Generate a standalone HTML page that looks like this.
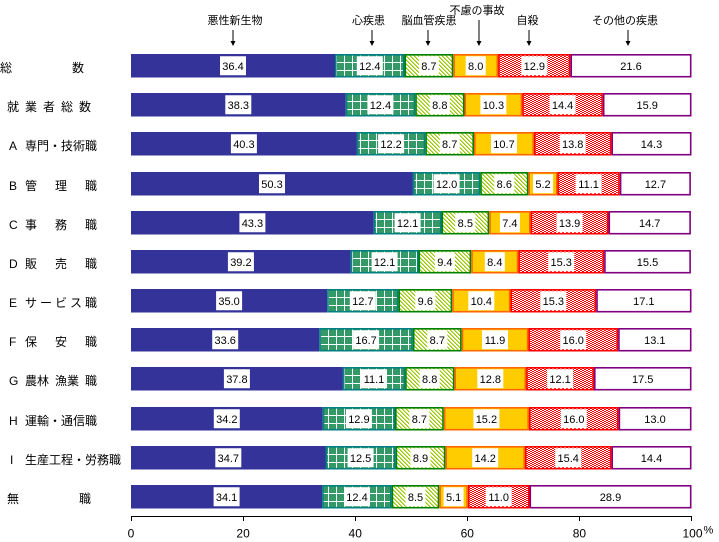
<!DOCTYPE html>
<html><head><meta charset="utf-8"><style>
html,body{margin:0;padding:0;background:#fff}
svg{display:block}
text{font-family:"Liberation Sans","Noto Sans CJK JP",sans-serif;fill:#000}
.n{font-size:11px;text-anchor:middle}
.lb{font-size:12px}
.hd{font-size:11px;text-anchor:middle}
.tk{font-size:12px;text-anchor:middle}
</style></head><body>
<svg width="719" height="542" viewBox="0 0 719 542" xmlns="http://www.w3.org/2000/svg">
<defs>
<pattern id="grid" width="8" height="8" patternUnits="userSpaceOnUse">
<rect width="8" height="8" fill="#339966" shape-rendering="crispEdges"/><rect width="1" height="8" fill="#fff" shape-rendering="crispEdges"/><rect y="0" width="8" height="1" fill="#fff" shape-rendering="crispEdges"/>
</pattern>
<pattern id="hatch" width="4" height="4" patternUnits="userSpaceOnUse">
<rect width="4" height="4" fill="#fff" shape-rendering="crispEdges"/>
<rect x="0" y="0" width="1" height="1" fill="#99CC00" shape-rendering="crispEdges"/>
<rect x="1" y="1" width="1" height="1" fill="#99CC00" shape-rendering="crispEdges"/>
<rect x="2" y="2" width="1" height="1" fill="#99CC00" shape-rendering="crispEdges"/>
<rect x="3" y="3" width="1" height="1" fill="#99CC00" shape-rendering="crispEdges"/>
<rect x="1" y="0" width="1" height="1" fill="#c4e066" shape-rendering="crispEdges"/>
<rect x="2" y="1" width="1" height="1" fill="#c4e066" shape-rendering="crispEdges"/>
<rect x="3" y="2" width="1" height="1" fill="#c4e066" shape-rendering="crispEdges"/>
<rect x="0" y="3" width="1" height="1" fill="#c4e066" shape-rendering="crispEdges"/>
</pattern>
<pattern id="dots" width="4" height="2" patternUnits="userSpaceOnUse">
<rect width="4" height="2" fill="#fff" shape-rendering="crispEdges"/><rect x="0" y="0" width="2" height="1" fill="#f00" shape-rendering="crispEdges"/><rect x="2" y="1" width="2" height="1" fill="#f00" shape-rendering="crispEdges"/>
</pattern>
<g id="arr"><line x1="0" y1="30" x2="0" y2="42" stroke="#000" stroke-width="1"/><polygon points="-2.5,41 2.5,41 0,46" fill="#000"/></g>
</defs>

<!-- headers -->
<text class="hd" x="235" y="24">悪性新生物</text>
<text class="hd" x="368.5" y="24">心疾患</text>
<text class="hd" x="429" y="24">脳血管疾患</text>
<text class="hd" x="477" y="14">不慮の事故</text>
<text class="hd" x="527.5" y="24">自殺</text>
<text class="hd" x="625" y="24">その他の疾患</text>
<use href="#arr" x="233" y="0"/>
<use href="#arr" x="372" y="0"/>
<use href="#arr" x="428" y="0"/>
<line x1="479" y1="20" x2="479" y2="42" stroke="#000" stroke-width="1"/><polygon points="476.5,41 481.5,41 479,46" fill="#000"/>
<use href="#arr" x="529" y="0"/>
<use href="#arr" x="628" y="0"/>

<!-- Row 0 -->
<g transform="translate(0,54)">
<text class="lb" x="0" y="17.75">総</text><text class="lb" x="72" y="17.75">数</text>
<rect x="131" y="0" width="204.0" height="23.5" fill="#333399"/>
<rect x="335.8" y="0.8" width="67.9" height="21.9" fill="url(#grid)" stroke="#008080" stroke-width="1.6"/>
<rect x="405.3" y="0.8" width="47.2" height="21.9" fill="url(#hatch)" stroke="#008000" stroke-width="1.6"/>
<rect x="454.1" y="0.8" width="43.2" height="21.9" fill="#FFCC00" stroke="#FF6600" stroke-width="1.6"/>
<rect x="498.9" y="0.8" width="70.7" height="21.9" fill="url(#dots)" stroke="#FF0000" stroke-width="1.6"/>
<rect x="571.2" y="0.8" width="119.5" height="21.9" fill="#fff" stroke="#800080" stroke-width="1.6"/>
<rect x="220.0" y="2.25" width="26" height="19" fill="#fff"/><text class="n" x="233.0" y="15.8">36.4</text>
<rect x="356.8" y="2.25" width="26" height="19" fill="#fff"/><text class="n" x="369.8" y="15.8">12.4</text>
<rect x="418.9" y="2.25" width="20" height="19" fill="#fff"/><text class="n" x="428.9" y="15.8">8.7</text>
<rect x="465.7" y="2.25" width="20" height="19" fill="#fff"/><text class="n" x="475.7" y="15.8">8.0</text>
<rect x="521.3" y="2.25" width="26" height="19" fill="#fff"/><text class="n" x="534.3" y="15.8">12.9</text>
<text class="n" x="631.0" y="15.8">21.6</text>
</g>

<!-- Row 1 -->
<g transform="translate(0,93)">
<text class="lb" x="7 25 43 61 79" y="17.75">就業者総数</text>
<rect x="131" y="0" width="214.7" height="23.5" fill="#333399"/>
<rect x="346.5" y="0.8" width="67.9" height="21.9" fill="url(#grid)" stroke="#008080" stroke-width="1.6"/>
<rect x="416.0" y="0.8" width="47.7" height="21.9" fill="url(#hatch)" stroke="#008000" stroke-width="1.6"/>
<rect x="465.3" y="0.8" width="56.1" height="21.9" fill="#FFCC00" stroke="#FF6600" stroke-width="1.6"/>
<rect x="523.0" y="0.8" width="79.1" height="21.9" fill="url(#dots)" stroke="#FF0000" stroke-width="1.6"/>
<rect x="603.7" y="0.8" width="87.0" height="21.9" fill="#fff" stroke="#800080" stroke-width="1.6"/>
<rect x="225.3" y="2.25" width="26" height="19" fill="#fff"/><text class="n" x="238.3" y="15.8">38.3</text>
<rect x="367.4" y="2.25" width="26" height="19" fill="#fff"/><text class="n" x="380.4" y="15.8">12.4</text>
<rect x="429.8" y="2.25" width="20" height="19" fill="#fff"/><text class="n" x="439.8" y="15.8">8.8</text>
<rect x="480.4" y="2.25" width="26" height="19" fill="#fff"/><text class="n" x="493.4" y="15.8">10.3</text>
<rect x="549.6" y="2.25" width="26" height="19" fill="#fff"/><text class="n" x="562.6" y="15.8">14.4</text>
<text class="n" x="647.2" y="15.8">15.9</text>
</g>

<!-- Row 2 -->
<g transform="translate(0,132)">
<text class="lb" x="9" y="17.75">A</text><text class="lb" x="25" y="17.75">専門・技術職</text>
<rect x="131" y="0" width="225.9" height="23.5" fill="#333399"/>
<rect x="357.7" y="0.8" width="66.8" height="21.9" fill="url(#grid)" stroke="#008080" stroke-width="1.6"/>
<rect x="426.1" y="0.8" width="47.1" height="21.9" fill="url(#hatch)" stroke="#008000" stroke-width="1.6"/>
<rect x="474.8" y="0.8" width="58.4" height="21.9" fill="#FFCC00" stroke="#FF6600" stroke-width="1.6"/>
<rect x="534.8" y="0.8" width="75.8" height="21.9" fill="url(#dots)" stroke="#FF0000" stroke-width="1.6"/>
<rect x="612.2" y="0.8" width="78.5" height="21.9" fill="#fff" stroke="#800080" stroke-width="1.6"/>
<rect x="230.9" y="2.25" width="26" height="19" fill="#fff"/><text class="n" x="243.9" y="15.8">40.3</text>
<rect x="378.1" y="2.25" width="26" height="19" fill="#fff"/><text class="n" x="391.1" y="15.8">12.2</text>
<rect x="439.7" y="2.25" width="20" height="19" fill="#fff"/><text class="n" x="449.7" y="15.8">8.7</text>
<rect x="491.0" y="2.25" width="26" height="19" fill="#fff"/><text class="n" x="504.0" y="15.8">10.7</text>
<rect x="559.7" y="2.25" width="26" height="19" fill="#fff"/><text class="n" x="572.7" y="15.8">13.8</text>
<text class="n" x="651.5" y="15.8">14.3</text>
</g>

<!-- Row 3 -->
<g transform="translate(0,172)">
<text class="lb" x="9" y="17.75">B</text><text class="lb" x="25 55 85" y="17.75">管理職</text>
<rect x="131" y="0" width="281.9" height="23.5" fill="#333399"/>
<rect x="413.7" y="0.8" width="65.7" height="21.9" fill="url(#grid)" stroke="#008080" stroke-width="1.6"/>
<rect x="481.0" y="0.8" width="46.6" height="21.9" fill="url(#hatch)" stroke="#008000" stroke-width="1.6"/>
<rect x="529.2" y="0.8" width="27.5" height="21.9" fill="#FFCC00" stroke="#FF6600" stroke-width="1.6"/>
<rect x="558.3" y="0.8" width="60.7" height="21.9" fill="url(#dots)" stroke="#FF0000" stroke-width="1.6"/>
<rect x="620.6" y="0.8" width="69.5" height="21.9" fill="#fff" stroke="#800080" stroke-width="1.6"/>
<rect x="259.0" y="2.25" width="26" height="19" fill="#fff"/><text class="n" x="272.0" y="15.8">50.3</text>
<rect x="433.6" y="2.25" width="26" height="19" fill="#fff"/><text class="n" x="446.6" y="15.8">12.0</text>
<rect x="494.3" y="2.25" width="20" height="19" fill="#fff"/><text class="n" x="504.3" y="15.8">8.6</text>
<rect x="533.0" y="2.25" width="20" height="19" fill="#fff"/><text class="n" x="543.0" y="15.8">5.2</text>
<rect x="575.6" y="2.25" width="26" height="19" fill="#fff"/><text class="n" x="588.6" y="15.8">11.1</text>
<text class="n" x="655.4" y="15.8">12.7</text>
</g>

<!-- Row 4 -->
<g transform="translate(0,211)">
<text class="lb" x="9" y="17.75">C</text><text class="lb" x="25 55 85" y="17.75">事務職</text>
<rect x="131" y="0" width="242.7" height="23.5" fill="#333399"/>
<rect x="374.5" y="0.8" width="66.2" height="21.9" fill="url(#grid)" stroke="#008080" stroke-width="1.6"/>
<rect x="442.3" y="0.8" width="46.1" height="21.9" fill="url(#hatch)" stroke="#008000" stroke-width="1.6"/>
<rect x="490.0" y="0.8" width="39.8" height="21.9" fill="#FFCC00" stroke="#FF6600" stroke-width="1.6"/>
<rect x="531.4" y="0.8" width="76.3" height="21.9" fill="url(#dots)" stroke="#FF0000" stroke-width="1.6"/>
<rect x="609.3" y="0.8" width="80.8" height="21.9" fill="#fff" stroke="#800080" stroke-width="1.6"/>
<rect x="239.4" y="2.25" width="26" height="19" fill="#fff"/><text class="n" x="252.4" y="15.8">43.3</text>
<rect x="394.6" y="2.25" width="26" height="19" fill="#fff"/><text class="n" x="407.6" y="15.8">12.1</text>
<rect x="455.3" y="2.25" width="20" height="19" fill="#fff"/><text class="n" x="465.3" y="15.8">8.5</text>
<rect x="499.9" y="2.25" width="20" height="19" fill="#fff"/><text class="n" x="509.9" y="15.8">7.4</text>
<rect x="556.6" y="2.25" width="26" height="19" fill="#fff"/><text class="n" x="569.6" y="15.8">13.9</text>
<text class="n" x="649.7" y="15.8">14.7</text>
</g>

<!-- Row 5 -->
<g transform="translate(0,250)">
<text class="lb" x="9" y="17.75">D</text><text class="lb" x="25 55 85" y="17.75">販売職</text>
<rect x="131" y="0" width="219.7" height="23.5" fill="#333399"/>
<rect x="351.5" y="0.8" width="66.2" height="21.9" fill="url(#grid)" stroke="#008080" stroke-width="1.6"/>
<rect x="419.3" y="0.8" width="51.1" height="21.9" fill="url(#hatch)" stroke="#008000" stroke-width="1.6"/>
<rect x="472.0" y="0.8" width="45.5" height="21.9" fill="#FFCC00" stroke="#FF6600" stroke-width="1.6"/>
<rect x="519.1" y="0.8" width="84.2" height="21.9" fill="url(#dots)" stroke="#FF0000" stroke-width="1.6"/>
<rect x="604.9" y="0.8" width="85.2" height="21.9" fill="#fff" stroke="#800080" stroke-width="1.6"/>
<rect x="227.9" y="2.25" width="26" height="19" fill="#fff"/><text class="n" x="240.9" y="15.8">39.2</text>
<rect x="371.6" y="2.25" width="26" height="19" fill="#fff"/><text class="n" x="384.6" y="15.8">12.1</text>
<rect x="434.9" y="2.25" width="20" height="19" fill="#fff"/><text class="n" x="444.9" y="15.8">9.4</text>
<rect x="484.8" y="2.25" width="20" height="19" fill="#fff"/><text class="n" x="494.8" y="15.8">8.4</text>
<rect x="548.2" y="2.25" width="26" height="19" fill="#fff"/><text class="n" x="561.2" y="15.8">15.3</text>
<text class="n" x="647.5" y="15.8">15.5</text>
</g>

<!-- Row 6 -->
<g transform="translate(0,289)">
<text class="lb" x="9" y="17.75">E</text><text class="lb" x="25 40 55 70 85" y="17.75">サービス職</text>
<rect x="131" y="0" width="196.2" height="23.5" fill="#333399"/>
<rect x="328.0" y="0.8" width="69.6" height="21.9" fill="url(#grid)" stroke="#008080" stroke-width="1.6"/>
<rect x="399.2" y="0.8" width="52.2" height="21.9" fill="url(#hatch)" stroke="#008000" stroke-width="1.6"/>
<rect x="453.0" y="0.8" width="56.7" height="21.9" fill="#FFCC00" stroke="#FF6600" stroke-width="1.6"/>
<rect x="511.3" y="0.8" width="84.1" height="21.9" fill="url(#dots)" stroke="#FF0000" stroke-width="1.6"/>
<rect x="597.0" y="0.8" width="93.7" height="21.9" fill="#fff" stroke="#800080" stroke-width="1.6"/>
<rect x="216.1" y="2.25" width="26" height="19" fill="#fff"/><text class="n" x="229.1" y="15.8">35.0</text>
<rect x="349.8" y="2.25" width="26" height="19" fill="#fff"/><text class="n" x="362.8" y="15.8">12.7</text>
<rect x="415.3" y="2.25" width="20" height="19" fill="#fff"/><text class="n" x="425.3" y="15.8">9.6</text>
<rect x="468.3" y="2.25" width="26" height="19" fill="#fff"/><text class="n" x="481.3" y="15.8">10.4</text>
<rect x="540.3" y="2.25" width="26" height="19" fill="#fff"/><text class="n" x="553.3" y="15.8">15.3</text>
<text class="n" x="643.8" y="15.8">17.1</text>
</g>

<!-- Row 7 -->
<g transform="translate(0,328)">
<text class="lb" x="9" y="17.75">F</text><text class="lb" x="25 55 85" y="17.75">保安職</text>
<rect x="131" y="0" width="188.3" height="23.5" fill="#333399"/>
<rect x="320.1" y="0.8" width="92.0" height="21.9" fill="url(#grid)" stroke="#008080" stroke-width="1.6"/>
<rect x="413.7" y="0.8" width="47.2" height="21.9" fill="url(#hatch)" stroke="#008000" stroke-width="1.6"/>
<rect x="462.5" y="0.8" width="65.1" height="21.9" fill="#FFCC00" stroke="#FF6600" stroke-width="1.6"/>
<rect x="529.2" y="0.8" width="88.1" height="21.9" fill="url(#dots)" stroke="#FF0000" stroke-width="1.6"/>
<rect x="618.9" y="0.8" width="71.8" height="21.9" fill="#fff" stroke="#800080" stroke-width="1.6"/>
<rect x="212.2" y="2.25" width="26" height="19" fill="#fff"/><text class="n" x="225.2" y="15.8">33.6</text>
<rect x="353.1" y="2.25" width="26" height="19" fill="#fff"/><text class="n" x="366.1" y="15.8">16.7</text>
<rect x="427.3" y="2.25" width="20" height="19" fill="#fff"/><text class="n" x="437.3" y="15.8">8.7</text>
<rect x="482.0" y="2.25" width="26" height="19" fill="#fff"/><text class="n" x="495.0" y="15.8">11.9</text>
<rect x="560.2" y="2.25" width="26" height="19" fill="#fff"/><text class="n" x="573.2" y="15.8">16.0</text>
<text class="n" x="654.8" y="15.8">13.1</text>
</g>

<!-- Row 8 -->
<g transform="translate(0,367)">
<text class="lb" x="9" y="17.75">G</text><text class="lb" x="25 37 55 67 85" y="17.75">農林漁業職</text>
<rect x="131" y="0" width="211.9" height="23.5" fill="#333399"/>
<rect x="343.7" y="0.8" width="60.6" height="21.9" fill="url(#grid)" stroke="#008080" stroke-width="1.6"/>
<rect x="405.9" y="0.8" width="47.7" height="21.9" fill="url(#hatch)" stroke="#008000" stroke-width="1.6"/>
<rect x="455.2" y="0.8" width="70.1" height="21.9" fill="#FFCC00" stroke="#FF6600" stroke-width="1.6"/>
<rect x="526.9" y="0.8" width="66.3" height="21.9" fill="url(#dots)" stroke="#FF0000" stroke-width="1.6"/>
<rect x="594.8" y="0.8" width="95.9" height="21.9" fill="#fff" stroke="#800080" stroke-width="1.6"/>
<rect x="223.9" y="2.25" width="26" height="19" fill="#fff"/><text class="n" x="236.9" y="15.8">37.8</text>
<rect x="361.0" y="2.25" width="26" height="19" fill="#fff"/><text class="n" x="374.0" y="15.8">11.1</text>
<rect x="419.7" y="2.25" width="20" height="19" fill="#fff"/><text class="n" x="429.7" y="15.8">8.8</text>
<rect x="477.3" y="2.25" width="26" height="19" fill="#fff"/><text class="n" x="490.3" y="15.8">12.8</text>
<rect x="547.1" y="2.25" width="26" height="19" fill="#fff"/><text class="n" x="560.1" y="15.8">12.1</text>
<text class="n" x="642.7" y="15.8">17.5</text>
</g>

<!-- Row 9 -->
<g transform="translate(0,407)">
<text class="lb" x="9" y="17.75">H</text><text class="lb" x="25" y="17.75">運輸・通信職</text>
<rect x="131" y="0" width="191.7" height="23.5" fill="#333399"/>
<rect x="323.5" y="0.8" width="70.7" height="21.9" fill="url(#grid)" stroke="#008080" stroke-width="1.6"/>
<rect x="395.8" y="0.8" width="47.2" height="21.9" fill="url(#hatch)" stroke="#008000" stroke-width="1.6"/>
<rect x="444.6" y="0.8" width="83.6" height="21.9" fill="#FFCC00" stroke="#FF6600" stroke-width="1.6"/>
<rect x="529.8" y="0.8" width="88.0" height="21.9" fill="url(#dots)" stroke="#FF0000" stroke-width="1.6"/>
<rect x="619.4" y="0.8" width="71.3" height="21.9" fill="#fff" stroke="#800080" stroke-width="1.6"/>
<rect x="213.8" y="2.25" width="26" height="19" fill="#fff"/><text class="n" x="226.8" y="15.8">34.2</text>
<rect x="345.9" y="2.25" width="26" height="19" fill="#fff"/><text class="n" x="358.9" y="15.8">12.9</text>
<rect x="409.4" y="2.25" width="20" height="19" fill="#fff"/><text class="n" x="419.4" y="15.8">8.7</text>
<rect x="473.4" y="2.25" width="26" height="19" fill="#fff"/><text class="n" x="486.4" y="15.8">15.2</text>
<rect x="560.8" y="2.25" width="26" height="19" fill="#fff"/><text class="n" x="573.8" y="15.8">16.0</text>
<text class="n" x="655.0" y="15.8">13.0</text>
</g>

<!-- Row 10 -->
<g transform="translate(0,446)">
<text class="lb" x="10" y="17.75">I</text><text class="lb" x="25" y="17.75">生産工程・労務職</text>
<rect x="131" y="0" width="194.5" height="23.5" fill="#333399"/>
<rect x="326.3" y="0.8" width="68.5" height="21.9" fill="url(#grid)" stroke="#008080" stroke-width="1.6"/>
<rect x="396.4" y="0.8" width="48.2" height="21.9" fill="url(#hatch)" stroke="#008000" stroke-width="1.6"/>
<rect x="446.2" y="0.8" width="78.0" height="21.9" fill="#FFCC00" stroke="#FF6600" stroke-width="1.6"/>
<rect x="525.8" y="0.8" width="84.8" height="21.9" fill="url(#dots)" stroke="#FF0000" stroke-width="1.6"/>
<rect x="612.2" y="0.8" width="78.5" height="21.9" fill="#fff" stroke="#800080" stroke-width="1.6"/>
<rect x="215.3" y="2.25" width="26" height="19" fill="#fff"/><text class="n" x="228.3" y="15.8">34.7</text>
<rect x="347.6" y="2.25" width="26" height="19" fill="#fff"/><text class="n" x="360.6" y="15.8">12.5</text>
<rect x="410.5" y="2.25" width="20" height="19" fill="#fff"/><text class="n" x="420.5" y="15.8">8.9</text>
<rect x="472.2" y="2.25" width="26" height="19" fill="#fff"/><text class="n" x="485.2" y="15.8">14.2</text>
<rect x="555.2" y="2.25" width="26" height="19" fill="#fff"/><text class="n" x="568.2" y="15.8">15.4</text>
<text class="n" x="651.5" y="15.8">14.4</text>
</g>

<!-- Row 11 -->
<g transform="translate(0,485)">
<text class="lb" x="7" y="17.75">無</text><text class="lb" x="79" y="17.75">職</text>
<rect x="131" y="0" width="191.1" height="23.5" fill="#333399"/>
<rect x="322.9" y="0.8" width="67.9" height="21.9" fill="url(#grid)" stroke="#008080" stroke-width="1.6"/>
<rect x="392.4" y="0.8" width="46.1" height="21.9" fill="url(#hatch)" stroke="#008000" stroke-width="1.6"/>
<rect x="440.1" y="0.8" width="27.0" height="21.9" fill="#FFCC00" stroke="#FF6600" stroke-width="1.6"/>
<rect x="468.7" y="0.8" width="60.0" height="21.9" fill="url(#dots)" stroke="#FF0000" stroke-width="1.6"/>
<rect x="530.3" y="0.8" width="160.4" height="21.9" fill="#fff" stroke="#800080" stroke-width="1.6"/>
<rect x="213.6" y="2.25" width="26" height="19" fill="#fff"/><text class="n" x="226.6" y="15.8">34.1</text>
<rect x="344.0" y="2.25" width="26" height="19" fill="#fff"/><text class="n" x="357.0" y="15.8">12.4</text>
<rect x="405.5" y="2.25" width="20" height="19" fill="#fff"/><text class="n" x="415.5" y="15.8">8.5</text>
<rect x="443.6" y="2.25" width="20" height="19" fill="#fff"/><text class="n" x="453.6" y="15.8">5.1</text>
<rect x="485.7" y="2.25" width="26" height="19" fill="#fff"/><text class="n" x="498.7" y="15.8">11.0</text>
<text class="n" x="610.5" y="15.8">28.9</text>
</g>

<!-- axis -->
<line x1="131" y1="516.5" x2="691.5" y2="516.5" stroke="#000" stroke-width="1"/>
<g stroke="#000" stroke-width="1">
<line x1="131.5" y1="516" x2="131.5" y2="521"/>
<line x1="243.5" y1="516" x2="243.5" y2="521"/>
<line x1="355.5" y1="516" x2="355.5" y2="521"/>
<line x1="467.5" y1="516" x2="467.5" y2="521"/>
<line x1="579.5" y1="516" x2="579.5" y2="521"/>
<line x1="691.5" y1="516" x2="691.5" y2="521"/>
</g>
<text class="tk" x="131" y="537.5">0</text>
<text class="tk" x="243.1" y="537.5">20</text>
<text class="tk" x="355.2" y="537.5">40</text>
<text class="tk" x="467.3" y="537.5">60</text>
<text class="tk" x="579.4" y="537.5">80</text>
<text class="tk" x="692.5" y="537.5">100</text>
<text x="703.5" y="533.5" style="font-size:11px">%</text>
</svg>
</body></html>
